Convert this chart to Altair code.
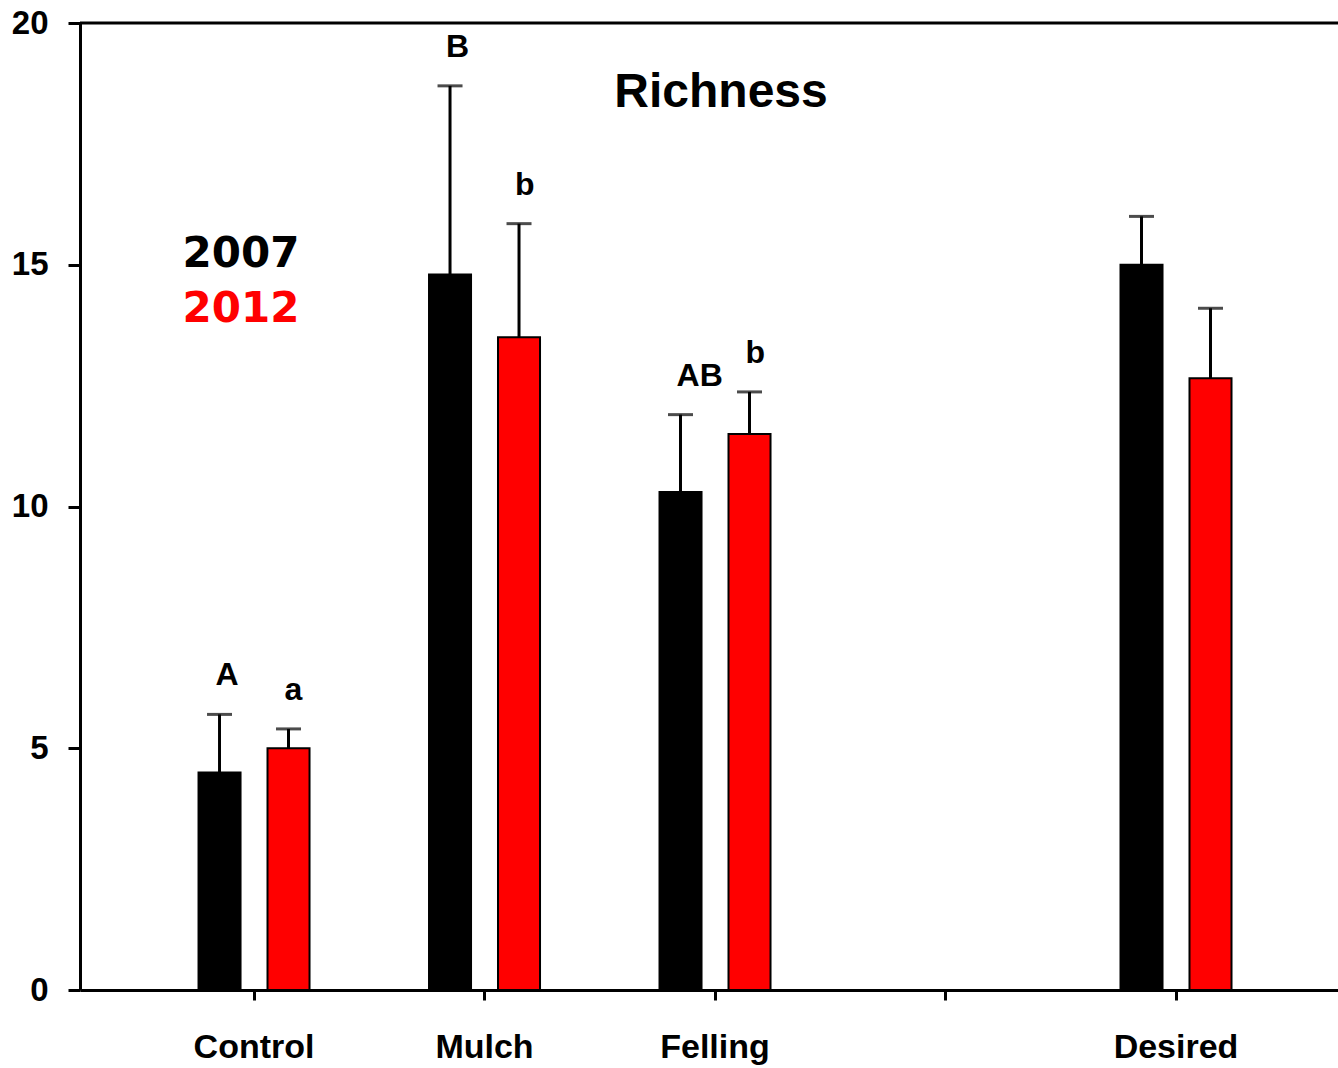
import altair as alt
import pandas as pd

# Treatment groups (the blank slot keeps a gap before "Desired")
categories = ["Control", "Mulch", "Felling", " ", "Desired"]
groups = ["Control", "Mulch", "Felling", "Desired"]
years = ["2007", "2012"]
year_colors = ["#000000", "#FF0000"]

# Mean richness and upper error limit for each group, per year
mean_2007 = [4.5, 14.8, 10.3, 15.0]
upper_2007 = [5.7, 18.7, 11.9, 16.0]
mean_2012 = [5.0, 13.5, 11.5, 12.65]
upper_2012 = [5.4, 15.85, 12.37, 14.1]

# Significance letters above the error bars
letters_2007 = ["A", "B", "AB", ""]
letters_2012 = ["a", "b", "b", ""]

rows = []
for i, g in enumerate(groups):
    rows.append({"group": g, "year": "2007", "mean": mean_2007[i],
                 "upper": upper_2007[i], "letter": letters_2007[i]})
    rows.append({"group": g, "year": "2012", "mean": mean_2012[i],
                 "upper": upper_2012[i], "letter": letters_2012[i]})
df = pd.DataFrame(rows)

W, H = 1258, 967
FONT = "Liberation Sans"

x_enc = alt.X(
    "group:N",
    sort=categories,
    scale=alt.Scale(domain=categories, paddingInner=0, paddingOuter=0.2289, align=0.557),
    axis=alt.Axis(
        title=None, labelAngle=0, labelFont=FONT, labelFontSize=34,
        labelFontWeight="bold", labelColor="black", labelPadding=30,
        tickSize=10, tickWidth=3, tickColor="black",
        domainWidth=3, domainColor="black",
    ),
)
xoff_enc = alt.XOffset(
    "year:N", sort=years,
    scale=alt.Scale(domain=years, paddingInner=0.391, paddingOuter=0.866),
)
y_scale = alt.Scale(domain=[0, 20], nice=False, zero=True)
y_axis = alt.Axis(
    title=None, values=[0, 5, 10, 15, 20], grid=False,
    labelFont=FONT, labelFontSize=33, labelFontWeight="bold", labelColor="black",
    labelPadding=20, tickSize=12, tickWidth=3, tickColor="black",
    domainWidth=3, domainColor="black",
)

base = alt.Chart(df)

bars = base.mark_bar(stroke="black", strokeWidth=2).encode(
    x=x_enc,
    xOffset=xoff_enc,
    y=alt.Y("mean:Q", scale=y_scale, axis=y_axis),
    color=alt.Color("year:N", scale=alt.Scale(domain=years, range=year_colors), legend=None),
)

err_line = base.mark_rule(color="black", strokeWidth=3).encode(
    x=x_enc, xOffset=xoff_enc,
    y=alt.Y("mean:Q", scale=y_scale, axis=y_axis),
    y2="upper:Q",
)

err_cap = base.mark_tick(color="black", size=25, thickness=3, orient="horizontal").encode(
    x=x_enc, xOffset=xoff_enc,
    y=alt.Y("upper:Q", scale=y_scale, axis=y_axis),
)

letters = base.transform_filter("datum.letter != ''").mark_text(
    font=FONT, fontSize=32, fontWeight="bold", color="black",
    align="left", baseline="alphabetic", dx=-4, dy=-29,
).encode(
    x=x_enc, xOffset=xoff_enc,
    y=alt.Y("upper:Q", scale=y_scale, axis=y_axis),
    text="letter:N",
)

# Year key drawn as coloured text, one line per year
key_rows = [244, 299]
key_layers = []
for yr, col, ypos in zip(years, year_colors, key_rows):
    key_layers.append(
        alt.Chart(pd.DataFrame({"year": [yr]})).mark_text(
            font="DejaVu Sans", fontSize=42, fontWeight="bold", color=col,
            align="center", baseline="alphabetic",
        ).encode(x=alt.value(161), y=alt.value(ypos), text="year:N")
    )

title = alt.Chart(pd.DataFrame({"t": ["Richness"]})).mark_text(
    font=FONT, fontSize=48, fontWeight="bold", color="black",
    align="center", baseline="alphabetic",
).encode(x=alt.value(641), y=alt.value(84), text="t:N")

top_border = alt.Chart(pd.DataFrame({"t": [0]})).mark_rule(
    color="black", strokeWidth=3
).encode(x=alt.value(0), x2=alt.value(W), y=alt.value(0))

chart = alt.layer(bars, err_line, err_cap, letters, *key_layers, title, top_border).properties(
    width=W, height=H,
    autosize=alt.AutoSizeParams(type="none"),
    padding={"left": 80, "top": 23, "right": 0, "bottom": 78},
).configure_view(stroke=None).configure(background="white")

chart.save("out.html", embed_options={"renderer": "svg", "actions": False})
